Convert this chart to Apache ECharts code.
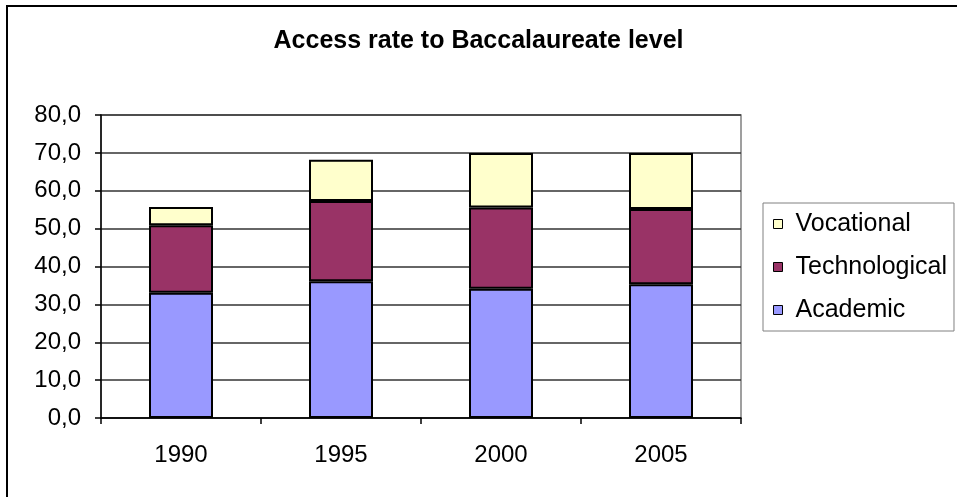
<!DOCTYPE html>
<html>
<head>
<meta charset="utf-8">
<title>Access rate to Baccalaureate level</title>
<script src="https://cdn.jsdelivr.net/npm/echarts@6/dist/echarts.min.js"></script>
<style>
  html, body { margin: 0; padding: 0; background: #ffffff; }
  #chart { width: 957px; height: 497px; }
</style>
</head>
<body>
<div id="chart"></div>
<script>
// Access rate to Baccalaureate level, by track (%)
const years = ['1990', '1995', '2000', '2005'];
const academic = [33.1, 36.1, 34.1, 35.3];
const technological = [17.8, 21.2, 21.5, 19.9];
const vocational = [4.8, 10.9, 14.4, 14.8];
const yTicks = { min: 0, max: 80, interval: 10 };

const FONT = '"Liberation Sans", Arial, sans-serif';

function stackSeries(name, data, color) {
  return {
    name: name,
    type: 'bar',
    stack: 'total',
    data: data,
    barWidth: '40%',
    itemStyle: { color: color, borderColor: '#000000', borderWidth: 2 },
    emphasis: { disabled: true }
  };
}

const chart = echarts.init(document.getElementById('chart'), null, { renderer: 'canvas' });

chart.setOption({
  animation: false,
  backgroundColor: '#ffffff',
  textStyle: { fontFamily: FONT },
  title: {
    text: 'Access rate to Baccalaureate level',
    left: 'center',
    top: 24,
    textStyle: { fontFamily: FONT, fontSize: 25, fontWeight: 'bold', color: '#000000' }
  },
  // frame around the chart (left and top edges)
  graphic: [{
    type: 'polyline',
    shape: { points: [[7, 497], [7, 6], [957, 6]] },
    style: { stroke: '#000000', lineWidth: 2, fill: null },
    silent: true
  }],
  grid: {
    left: 101,
    top: 115,
    right: 216,
    bottom: 79,
    show: true,
    borderColor: '#808080',
    borderWidth: 1.5,
    backgroundColor: '#ffffff'
  },
  legend: {
    orient: 'vertical',
    left: 763,
    top: 203,
    data: ['Vocational', 'Technological', 'Academic'],
    icon: 'rect',
    itemWidth: 9,
    itemHeight: 9,
    itemGap: 17,
    padding: [8, 7, 8, 10],
    borderColor: '#808080',
    borderWidth: 1,
    selectedMode: false,
    itemStyle: { borderColor: '#000000', borderWidth: 1 },
    textStyle: { fontFamily: FONT, fontSize: 25, color: '#000000', lineHeight: 26, padding: [0, 0, 0, 8] }
  },
  xAxis: {
    type: 'category',
    data: years,
    axisLine: { lineStyle: { color: '#000000', width: 1.5 } },
    axisTick: { show: true, alignWithLabel: false, inside: false, length: 6, lineStyle: { color: '#000000', width: 1.5 } },
    axisLabel: { fontFamily: FONT, fontSize: 24, color: '#000000', margin: 25 },
    splitLine: { show: false }
  },
  yAxis: {
    type: 'value',
    min: yTicks.min,
    max: yTicks.max,
    interval: yTicks.interval,
    axisLine: { show: true, lineStyle: { color: '#000000', width: 1.5 } },
    axisTick: { show: true, inside: false, length: 6, lineStyle: { color: '#000000', width: 1.5 } },
    axisLabel: {
      fontFamily: FONT, fontSize: 24, color: '#000000', margin: 20,
      formatter: function (v) { return v.toFixed(1).replace('.', ','); }
    },
    splitLine: { show: true, lineStyle: { color: '#333333', width: 1.5 } }
  },
  series: [
    stackSeries('Academic', academic, '#9999ff'),
    stackSeries('Technological', technological, '#993366'),
    stackSeries('Vocational', vocational, '#ffffcc')
  ]
});
</script>
</body>
</html>
